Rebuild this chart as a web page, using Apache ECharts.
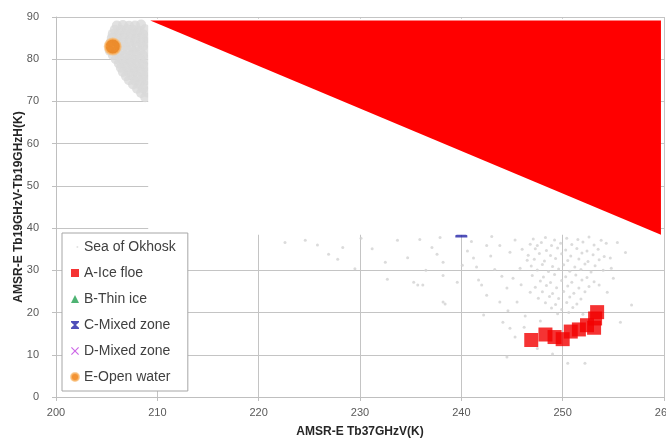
<!DOCTYPE html>
<html>
<head>
<meta charset="utf-8">
<script src="https://cdn.jsdelivr.net/npm/echarts@6/dist/echarts.min.js"></script>
<style>html,body{margin:0;padding:0;background:#fff}#c{width:666px;height:438px}</style>
</head>
<body>
<div id="c"></div>
<script>
// ---- data ----
const xTicks = [200, 210, 220, 230, 240, 250, 260];
const yTicks = [0, 10, 20, 30, 40, 50, 60, 70, 80, 90];
const xTitle = 'AMSR-E Tb37GHzV(K)';
const yTitle = 'AMSR-E Tb19GHzV-Tb19GHzH(K)';
const seriesNames = ['Sea of Okhosk', 'A-Ice floe', 'B-Thin ice', 'C-Mixed zone', 'D-Mixed zone', 'E-Open water'];

// Sea of Okhotsk cloud (sparse part)
const okhotsk = [
  [222.6,36.6],[224.6,37.1],[226.9,33.8],[227.8,32.6],[228.3,35.4],[230.1,37.6],[232.5,31.9],[233.7,37.1],
  [234.7,33.0],[235.9,37.3],[237.1,35.4],[237.6,33.8],[238.2,31.9],[232.7,27.9],[235.3,27.2],[235.7,26.5],
  [238.2,28.8],[239.6,27.2],[238.4,22.0],[240.1,31.2],[237.9,37.8],[236.2,26.5],[238.2,22.5],[229.5,30.4],
  [225.8,36.0],[231.2,35.1],[236.5,30.0],
  [241.2,32.9],[241.7,27.7],[242.0,26.5],[242.5,24.1],[243.8,22.5],[244.5,25.8],[245.1,28.1],[245.8,30.5],
  [246.5,32.4],[245.5,22.5],[246.8,24.8],[243.8,35.9],[244.8,34.3],[242.5,35.9],[247.5,35.9],[242.2,19.4],
  [244.1,17.7],[241.0,36.8],[242.9,33.4],[243.3,30.2],[244.0,28.6],[241.5,30.8],[245.3,37.2],[246.0,35.0],
  [243.0,38.0],[240.6,34.6],[244.6,20.4],[245.9,26.6],[246.3,19.2],[244.8,16.3],[245.3,14.2],[244.5,9.5],
  [247.1,37.4],[248.3,37.8],[249.2,37.2],[250.4,37.6],[251.5,37.3],[252.6,37.9],[253.8,37.1],
  [246.8,36.2],[247.9,36.6],[248.9,35.9],[249.8,36.4],[250.9,36.1],[252.0,36.7],[253.1,36.0],[254.3,36.4],
  [247.3,35.1],[248.4,34.7],[249.5,35.3],[250.3,34.8],[251.4,35.2],[252.4,34.6],[253.5,35.0],
  [246.6,33.6],[247.7,34.0],[248.8,33.5],[249.9,33.9],[250.8,33.4],[251.9,34.1],[253.0,33.7],[254.1,33.3],
  [247.2,32.6],[248.2,32.2],[249.3,32.8],[250.5,32.3],[251.6,32.7],[252.5,32.1],[253.6,32.5],
  [246.9,31.0],[248.0,31.4],[249.0,30.9],[250.1,31.3],[251.2,30.8],[252.2,31.5],[253.2,31.1],
  [247.5,30.1],[248.6,29.7],[249.6,30.3],[250.7,29.8],[251.8,30.2],[252.8,29.6],[254.0,30.0],
  [247.0,28.8],[248.1,28.4],[249.2,29.0],[250.3,28.5],[251.3,28.9],[252.4,28.3],
  [247.8,27.5],[248.8,27.1],[249.9,27.6],[250.9,27.2],[251.9,27.7],[253.1,27.3],
  [247.3,26.0],[248.4,26.4],[249.4,25.9],[250.5,26.3],[251.6,25.8],[252.6,26.2],
  [248.0,24.9],[249.0,24.5],[250.1,25.0],[251.1,24.6],[252.2,24.9],
  [247.6,23.4],[248.7,23.8],[249.6,23.3],[250.7,23.7],[251.8,23.2],
  [248.3,22.3],[249.3,21.9],[250.4,22.4],[251.4,22.0],
  [248.9,21.1],[249.9,20.7],[251.0,21.2],
  [249.5,19.7],[250.6,20.0],[252.0,19.6],
  [254.4,24.8],[255.0,28.1],[254.7,32.9],[255.4,36.6],[255.7,17.7],[250.5,8.0],[252.2,8.0],[247.5,11.5],
  [253.6,26.5],[254.8,30.5],[256.2,34.2],[256.8,21.8],[247.8,18.0],[246.2,16.5],[249.0,10.2]
];
// Sea of Okhotsk cloud (dense blob near top-left)
const okhotskDense = [
  [206.0,88.0],[206.6,88.1],[207.2,87.9],[207.8,88.0],[208.4,88.2],
  [205.8,87.0],[206.4,86.9],[207.0,87.1],[207.6,87.0],[208.2,86.8],[208.8,87.1],
  [205.6,86.0],[206.2,86.1],[206.8,85.9],[207.4,86.0],[208.0,86.2],[208.6,85.9],
  [205.5,85.0],[206.1,84.9],[206.7,85.1],[207.3,85.0],[207.9,84.8],[208.5,85.1],[209.0,85.0],
  [205.4,84.0],[206.0,84.1],[206.6,83.9],[207.2,84.0],[207.8,84.2],[208.4,83.9],[209.0,84.0],
  [206.2,83.0],[206.8,83.1],[207.4,82.9],[208.0,83.0],[208.6,83.1],
  [205.3,82.0],[205.9,81.9],[206.5,82.1],[207.1,82.0],[207.7,81.8],[208.3,82.0],[208.9,82.1],
  [205.6,81.0],[206.2,81.1],[206.8,80.9],[207.4,81.0],[208.0,81.2],[208.6,80.9],
  [205.9,80.0],[206.5,80.1],[207.1,79.9],[207.7,80.0],[208.3,80.2],[208.9,79.9],
  [206.2,79.0],[206.8,78.9],[207.4,79.1],[208.0,79.0],[208.6,78.8],
  [206.4,78.0],[207.0,78.1],[207.6,77.9],[208.2,78.0],[208.8,78.1],
  [206.6,77.0],[207.2,76.9],[207.8,77.1],[208.4,77.0],[209.0,76.9],
  [206.9,76.0],[207.5,76.1],[208.1,75.9],[208.7,76.0],
  [207.2,75.0],[207.8,74.9],[208.4,75.1],[209.0,75.0],
  [207.6,74.0],[208.2,74.1],[208.8,73.9],
  [208.0,73.0],[208.6,73.1],
  [208.4,72.0],[209.0,72.1],
  [208.8,71.0]
];
const iceFloe = [
  [246.9,13.5],[248.3,14.8],[249.2,14.2],[250.0,13.7],[250.8,15.5],[251.6,16.0],
  [252.4,17.0],[253.1,16.4],[253.2,18.6],[253.4,20.1]
];
const thinIce = [];
const mixedC = [[240.0,39.2]];
const mixedD = [];
const openWater = [[205.6,83.0]];

// overlay blocks seen in the picture (data coordinates)
const maskBox = [209.1, 38.4, 259.7, 89.6]; // xmin, ymin, xmax, ymax
const redWedge = [[209.3, 89.2], [259.7, 89.2], [259.7, 38.4]];

// ---- chart ----
const chart = echarts.init(document.getElementById('c'));
const FONT = 'Liberation Sans, Arial, sans-serif';
const hourglass = 'path://M0,0 H10 V1.6 L6.2,5 L10,8.4 V10 H0 V8.4 L3.8,5 L0,1.6 Z';
const xMark = 'path://M1,0 L5,4 L9,0 L10,1 L6,5 L10,9 L9,10 L5,6 L1,10 L0,9 L4,5 L0,1 Z';
const dotIcon = 'path://M0,0 L0.01,0 M10,10 L10.01,10 M7,4 H9 V6 H7 Z';

chart.setOption({
  animation: false,
  textStyle: { fontFamily: FONT },
  grid: { left: 56, right: 2, top: 17, bottom: 41, containLabel: false, outerBoundsMode: 'none' },
  xAxis: {
    type: 'value', min: xTicks[0], max: xTicks[xTicks.length - 1], interval: 10,
    name: xTitle, nameLocation: 'middle', nameGap: 29, nameMoveOverlap: false,
    nameTextStyle: { fontWeight: 'bold', fontSize: 12, color: '#262626', fontFamily: FONT },
    axisLine: { show: true, lineStyle: { color: '#bfbfbf' } },
    axisTick: { show: true, length: 4, lineStyle: { color: '#bfbfbf' } },
    axisLabel: { fontSize: 11, color: '#595959', margin: 10, fontFamily: FONT },
    splitLine: { show: true, lineStyle: { color: '#c4c4c4' } }
  },
  yAxis: {
    type: 'value', min: yTicks[0], max: yTicks[yTicks.length - 1], interval: 10,
    name: yTitle, nameLocation: 'middle', nameGap: 31, nameRotate: 90, nameMoveOverlap: false,
    nameTextStyle: { fontWeight: 'bold', fontSize: 12, color: '#262626', fontFamily: FONT },
    axisLine: { show: true, lineStyle: { color: '#bfbfbf' } },
    axisTick: { show: true, length: 4, lineStyle: { color: '#bfbfbf' } },
    axisLabel: { fontSize: 11, color: '#595959', margin: 17, fontFamily: FONT },
    splitLine: { show: true, lineStyle: { color: '#c4c4c4' } }
  },
  legend: {
    orient: 'vertical', left: 62, top: 233,
    padding: [7, 12, 7, 8],
    itemWidth: 8, itemHeight: 8, itemGap: 12, itemTextGap: 5,
    backgroundColor: '#ffffff', borderColor: '#a6a6a6', borderWidth: 1, borderRadius: 0,
    textStyle: { fontSize: 14, lineHeight: 14, color: '#404040', fontFamily: FONT },
    data: [
      { name: seriesNames[0], icon: dotIcon },
      { name: seriesNames[1], icon: 'rect' },
      { name: seriesNames[2], icon: 'triangle' },
      { name: seriesNames[3], icon: hourglass },
      { name: seriesNames[4], icon: xMark },
      { name: seriesNames[5], icon: 'circle' }
    ]
  },
  series: [
    { name: seriesNames[0], type: 'scatter', data: okhotsk, symbol: 'circle', symbolSize: 3,
      itemStyle: { color: '#d2d2d2' } },
    { name: seriesNames[0], type: 'scatter', data: okhotskDense, symbol: 'circle', symbolSize: 10,
      itemStyle: { color: '#d9d9d9' } },
    { name: seriesNames[1], type: 'scatter', data: iceFloe, symbol: 'rect', symbolSize: 14,
      itemStyle: { color: '#f20000' } },
    { name: seriesNames[2], type: 'scatter', data: thinIce, symbol: 'triangle', symbolSize: 9,
      itemStyle: { color: '#22a050' } },
    { name: seriesNames[3], type: 'scatter', data: mixedC, symbol: hourglass, symbolSize: 12,
      itemStyle: { color: '#2323a8' } },
    { name: seriesNames[4], type: 'scatter', data: mixedD, symbol: xMark, symbolSize: 9,
      itemStyle: { color: '#c040e0' } },
    { name: seriesNames[5], type: 'scatter', data: openWater, symbol: 'circle', symbolSize: 16,
      itemStyle: { color: '#f07800', borderColor: 'rgba(248,190,120,0.9)', borderWidth: 2 } },
    { name: 'mask', type: 'custom', z: 3, silent: true, data: [maskBox],
      renderItem: function (params, api) {
        const p0 = api.coord([maskBox[0], maskBox[3]]);
        const p1 = api.coord([maskBox[2], maskBox[1]]);
        return { type: 'rect', shape: { x: p0[0], y: p0[1], width: p1[0] - p0[0], height: p1[1] - p0[1] },
                 style: { fill: '#ffffff' } };
      } },
    { name: 'wedge', type: 'custom', z: 3, silent: true, data: redWedge,
      renderItem: function (params, api) {
        if (params.dataIndex !== 0) return null;
        return { type: 'polygon', shape: { points: redWedge.map(function (p) { return api.coord(p); }) },
                 style: { fill: '#ff0000' } };
      } }
  ]
});
</script>
</body>
</html>
